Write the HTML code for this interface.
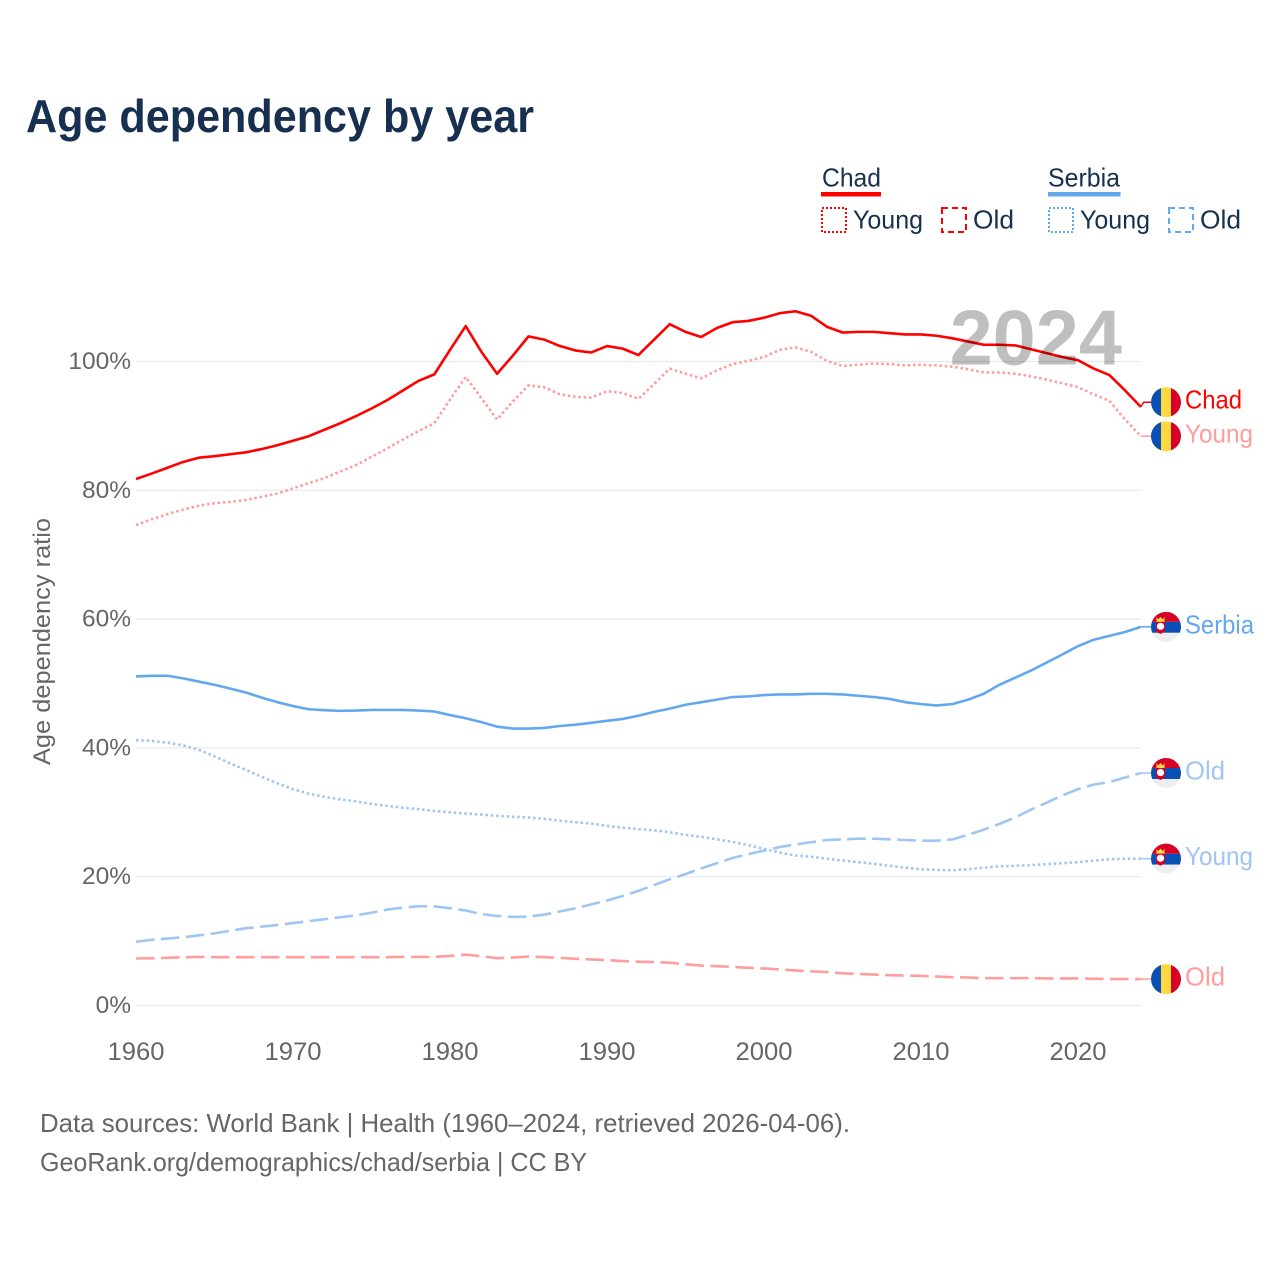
<!DOCTYPE html>
<html lang="en">
<head>
<meta charset="utf-8">
<title>Age dependency by year</title>
<style>
html,body{margin:0;padding:0;background:#fff;width:1280px;height:1280px;overflow:hidden}
svg{display:block;font-family:"Liberation Sans",sans-serif}
</style>
</head>
<body>
<svg id="chart" xmlns="http://www.w3.org/2000/svg" width="1280" height="1280" viewBox="0 0 1280 1280">
  <defs>
    <clipPath id="flag-clip"><circle cx="0" cy="0" r="15"/></clipPath>
  </defs>
  <rect width="1280" height="1280" fill="#ffffff"/>
  <text x="26" y="132" font-size="46" font-weight="700" fill="#17304f" textLength="508" lengthAdjust="spacingAndGlyphs">Age dependency by year</text>

  <g font-size="26" fill="#17304f">
    <g>
      <text x="822" y="186.5" textLength="59" lengthAdjust="spacingAndGlyphs">Chad</text>
      <rect x="821" y="192" width="60" height="4.5" fill="#ff0000"/>
      <rect x="822" y="208" width="24" height="24" fill="none" stroke="#ff0000" stroke-width="2" stroke-dasharray="2 2"/>
      <text x="853" y="228.5" textLength="70" lengthAdjust="spacingAndGlyphs">Young</text>
      <rect x="942" y="208" width="24" height="24" fill="none" stroke="#ff0000" stroke-width="2" stroke-dasharray="6 4"/>
      <text x="973" y="228.5" textLength="41" lengthAdjust="spacingAndGlyphs">Old</text>
    </g>
    <g>
      <text x="1048" y="186.5" textLength="72" lengthAdjust="spacingAndGlyphs">Serbia</text>
      <rect x="1048" y="192" width="72.5" height="4.5" fill="#63a8ee"/>
      <rect x="1049" y="208" width="24" height="24" fill="none" stroke="#63a8ee" stroke-width="2" stroke-dasharray="2 2"/>
      <text x="1080" y="228.5" textLength="70" lengthAdjust="spacingAndGlyphs">Young</text>
      <rect x="1169" y="208" width="24" height="24" fill="none" stroke="#63a8ee" stroke-width="2" stroke-dasharray="6 4"/>
      <text x="1200" y="228.5" textLength="41" lengthAdjust="spacingAndGlyphs">Old</text>
    </g>
  </g>

  <g id="grid"></g>
  <g id="y-ticks" font-size="24.5" fill="#666666" text-anchor="end"></g>
  <g id="x-ticks" font-size="25" fill="#666666" text-anchor="middle"></g>
  <text transform="translate(50,641.5) rotate(-90)" font-size="24.5" fill="#666666" text-anchor="middle" textLength="247" lengthAdjust="spacingAndGlyphs">Age dependency ratio</text>

  <g id="series"></g>
  <text x="1122" y="364.5" font-size="77.5" font-weight="700" fill="#000000" fill-opacity="0.25" text-anchor="end">2024</text>
  <g id="end-labels" font-size="26"></g>

  <text x="40" y="1132" font-size="26" fill="#666666" textLength="810" lengthAdjust="spacingAndGlyphs">Data sources: World Bank | Health (1960–2024, retrieved 2026-04-06).</text>
  <text x="40" y="1171" font-size="26" fill="#666666" textLength="547" lengthAdjust="spacingAndGlyphs">GeoRank.org/demographics/chad/serbia | CC BY</text>
</svg>

<script>
const years = [
  1960,1961,1962,1963,1964,1965,1966,1967,1968,1969,
  1970,1971,1972,1973,1974,1975,1976,1977,1978,1979,
  1980,1981,1982,1983,1984,1985,1986,1987,1988,1989,
  1990,1991,1992,1993,1994,1995,1996,1997,1998,1999,
  2000,2001,2002,2003,2004,2005,2006,2007,2008,2009,
  2010,2011,2012,2013,2014,2015,2016,2017,2018,2019,
  2020,2021,2022,2023,2024
];
const chadTotal = [
  81.75,82.6,83.5,84.4,85.06,85.3,85.6,85.9,86.4,87,
  87.7,88.4,89.4,90.4,91.5,92.7,94,95.5,97,98,
  101.8,105.5,101.5,98.1,100.9,103.9,103.4,102.4,101.7,101.4,
  102.4,102,101,103.4,105.8,104.6,103.8,105.2,106.1,106.3,
  106.8,107.5,107.8,107.1,105.4,104.5,104.6,104.6,104.4,104.2,
  104.2,104,103.6,103.1,102.6,102.6,102.5,101.9,101.3,100.7,
  100.2,98.9,97.9,95.5,92.95
];
const chadYoung = [
  74.6,75.5,76.3,77,77.6,78,78.2,78.5,79,79.5,
  80.3,81.1,81.9,82.9,83.9,85.2,86.5,87.9,89.2,90.4,
  94.1,97.6,94.3,91,93.8,96.3,96,94.9,94.5,94.4,
  95.4,95.1,94.2,96.5,98.9,98.1,97.4,98.6,99.6,100.1,
  100.7,101.8,102.2,101.5,100.1,99.3,99.5,99.7,99.6,99.4,
  99.5,99.4,99.2,98.8,98.3,98.3,98.1,97.7,97.2,96.6,
  96,94.9,93.9,91,88.4
];
const chadOld = [
  7.3,7.34,7.4,7.5,7.55,7.5,7.5,7.5,7.5,7.5,
  7.5,7.5,7.5,7.5,7.5,7.5,7.5,7.55,7.55,7.55,
  7.7,7.9,7.65,7.35,7.45,7.6,7.5,7.4,7.25,7.15,
  7.05,6.9,6.8,6.75,6.65,6.4,6.2,6.1,6,5.85,
  5.75,5.6,5.45,5.3,5.2,5,4.9,4.8,4.7,4.65,
  4.6,4.5,4.4,4.35,4.25,4.25,4.25,4.25,4.2,4.2,
  4.2,4.15,4.1,4.1,4.1
];
const serbiaTotal = [
  51.1,51.2,51.2,50.8,50.3,49.8,49.2,48.6,47.8,47.1,
  46.5,46,45.85,45.75,45.8,45.9,45.9,45.9,45.8,45.65,
  45.1,44.6,44,43.3,43,43,43.1,43.4,43.6,43.9,
  44.2,44.5,45,45.6,46.1,46.7,47.1,47.5,47.9,48,
  48.2,48.3,48.3,48.4,48.4,48.3,48.1,47.9,47.6,47.1,
  46.8,46.6,46.8,47.5,48.4,49.8,50.9,52,53.25,54.5,
  55.8,56.8,57.4,58,58.8
];
const serbiaYoung = [
  41.2,41.1,40.8,40.4,39.7,38.7,37.6,36.6,35.5,34.5,
  33.6,32.9,32.4,32,31.7,31.3,31,30.7,30.5,30.2,
  30,29.8,29.65,29.45,29.3,29.2,29,28.7,28.45,28.25,
  27.9,27.6,27.4,27.2,26.9,26.5,26.2,25.8,25.4,24.9,
  24.3,23.75,23.3,23.1,22.8,22.5,22.25,22,21.7,21.4,
  21.15,21.05,21,21.15,21.4,21.6,21.7,21.8,21.95,22.1,
  22.25,22.5,22.7,22.8,22.8
];
const serbiaOld = [
  9.9,10.2,10.4,10.6,10.9,11.2,11.6,12,12.25,12.5,
  12.8,13.1,13.4,13.7,14,14.4,14.9,15.2,15.4,15.4,
  15.1,14.75,14.2,13.9,13.75,13.8,14.1,14.6,15.1,15.7,
  16.3,17,17.8,18.7,19.6,20.4,21.3,22.1,22.9,23.5,
  24.05,24.6,25,25.35,25.7,25.8,25.9,25.9,25.8,25.7,
  25.6,25.6,25.8,26.5,27.3,28.2,29.2,30.4,31.5,32.6,
  33.6,34.3,34.7,35.4,36.1
];
const yTickValues = [0, 20, 40, 60, 80, 100];
const xTickValues = [1960, 1970, 1980, 1990, 2000, 2010, 2020];

const SVG_NS = 'http://www.w3.org/2000/svg';
const styleSolid = 'none';
const styleDotted = '2.5 2.8';
const styleDashed = '18.5 6.5';
const seriesList = [
  {key:'chad-total', label:'Chad', country:'chad', values:chadTotal, color:'#ff0000', textColor:'#ff0000', dash:styleSolid, labelWidth:57},
  {key:'chad-young', label:'Young', country:'chad', values:chadYoung, color:'#ff9c9c', textColor:'#ff9c9c', dash:styleDotted, labelWidth:68},
  {key:'chad-old', label:'Old', country:'chad', values:chadOld, color:'#ff9c9c', textColor:'#ff9c9c', dash:styleDashed, labelWidth:40},
  {key:'serbia-total', label:'Serbia', country:'serbia', values:serbiaTotal, color:'#63a8ee', textColor:'#63a8ee', dash:styleSolid, labelWidth:69},
  {key:'serbia-young', label:'Young', country:'serbia', values:serbiaYoung, color:'#9fc6f2', textColor:'#9fc6f2', dash:styleDotted, labelWidth:68},
  {key:'serbia-old', label:'Old', country:'serbia', values:serbiaOld, color:'#9fc6f2', textColor:'#9fc6f2', dash:styleDashed, labelWidth:40}
];

function xScale(year) { return 136 + (year - 1960) * 15.7; }
function yScale(value) { return 1005.5 - value * 6.44; }

function make(tag, attrs, parent) {
  const el = document.createElementNS(SVG_NS, tag);
  for (const k in attrs) el.setAttribute(k, attrs[k]);
  parent.appendChild(el);
  return el;
}

const gridGroup = document.getElementById('grid');
const yTickGroup = document.getElementById('y-ticks');
yTickValues.forEach(function (v) {
  const line = make('line', {x1:136, x2:1141, y1:yScale(v), y2:yScale(v), stroke:'#e9e9e9', 'stroke-width':1.2}, gridGroup);
  
  
  const t = make('text', {x:131, y:yScale(v) + 7.5}, yTickGroup);
  t.textContent = v + '%';
  
  
});

const xTickGroup = document.getElementById('x-ticks');
xTickValues.forEach(function (yr) {
  const t = make('text', {x:xScale(yr), y:1060, textLength:57, lengthAdjust:'spacingAndGlyphs'}, xTickGroup);
  t.textContent = String(yr);
  
  
});

const seriesGroup = document.getElementById('series');
seriesList.forEach(function (s) {
  const pts = s.values.map(function (v, i) { return xScale(years[i]).toFixed(2) + ',' + yScale(v).toFixed(2); });
  const line = make('polyline', {points:pts.join(' '), fill:'none', stroke:s.color, 'stroke-width':2.6, 'stroke-linejoin':'round'}, seriesGroup);
  if (s.dash !== 'none') line.setAttribute('stroke-dasharray', s.dash);
  
  
});

/* End labels: start at the last data value, then push apart any that would overlap. */
const MIN_LABEL_GAP = 34;
const placed = seriesList.map(function (s) {
  const endValue = s.values[s.values.length - 1];
  return {s:s, endY:yScale(endValue), labelY:yScale(endValue)};
}).sort(function (a, b) { return b.labelY - a.labelY; });
for (let i = 1; i < placed.length; i++) {
  if (placed[i - 1].labelY - placed[i].labelY < MIN_LABEL_GAP) {
    placed[i].labelY = placed[i - 1].labelY - MIN_LABEL_GAP;
  }
}

function drawChadFlag(g) {
  const clip = make('g', {'clip-path':'url(#flag-clip)'}, g);
  make('rect', {x:-15, y:-16, width:10, height:32, fill:'#0a50b4'}, clip);
  make('rect', {x:-5, y:-16, width:10, height:32, fill:'#ffd83d'}, clip);
  make('rect', {x:5, y:-16, width:10, height:32, fill:'#d80027'}, clip);
}
function drawSerbiaFlag(g) {
  const clip = make('g', {'clip-path':'url(#flag-clip)'}, g);
  make('rect', {x:-16, y:-16, width:32, height:11, fill:'#d80027'}, clip);
  make('rect', {x:-16, y:-5, width:32, height:11, fill:'#0a50b4'}, clip);
  make('rect', {x:-16, y:6, width:32, height:10, fill:'#eeeeee'}, clip);
  make('path', {d:'M-9.5 -10 L-8 -7.5 L-5.5 -10 L-3 -7.5 L-1.5 -10 L-1.5 -5 L-9.5 -5 Z', fill:'#ffd83d'}, clip);
  make('path', {d:'M-10 -5 H-1 V2.5 Q-1 5.5 -5.5 7 Q-10 5.5 -10 2.5 Z', fill:'#d80027'}, clip);
  make('circle', {cx:-5.5, cy:-0.5, r:3.6, fill:'#ffffff'}, clip);
}

const labelGroup = document.getElementById('end-labels');
placed.forEach(function (p) {
  const s = p.s;
  const lastX = xScale(years[years.length - 1]);
  const connector = make('polyline', {
    points: lastX + ',' + p.endY.toFixed(2) + ' ' + (lastX + 3) + ',' + p.labelY.toFixed(2) + ' 1151,' + p.labelY.toFixed(2),
    fill:'none', stroke:s.color, 'stroke-width':1.5
  }, labelGroup);
  
  

  const flag = make('g', {transform:'translate(1166,' + p.labelY.toFixed(2) + ')'}, labelGroup);
  
  
  if (s.country === 'chad') drawChadFlag(flag); else drawSerbiaFlag(flag);

  const text = make('text', {x:1185, y:(p.labelY + 6.5).toFixed(2), fill:s.textColor, textLength:s.labelWidth, lengthAdjust:'spacingAndGlyphs'}, labelGroup);
  text.textContent = s.label;
  
  
});
</script>
</body>
</html>
